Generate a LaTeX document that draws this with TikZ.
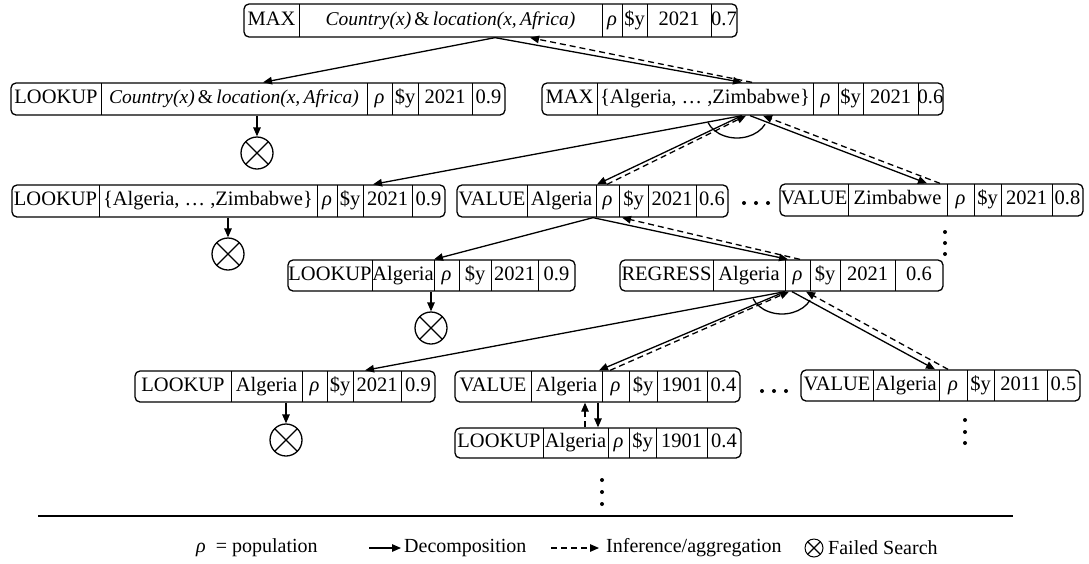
\documentclass[tikz,border=0pt]{standalone}
\usepackage{fontspec}
\setmainfont{Liberation Serif}
\usetikzlibrary{arrows.meta,calc}

\tikzset{
  conn/.style={line width=1.3pt, -{Triangle[length=9pt,width=7.5pt]}},
  infer/.style={conn, dash pattern=on 6pt off 4pt},
  framebox/.style={draw, line width=1.3pt, rounded corners=5pt, inner sep=0pt},
  celltext/.style={inner sep=0pt, text height=14pt, text depth=4.5pt, font=\fontsize{20.5}{24}\selectfont},
  divider/.style={line width=1pt},
  fail/.style={circle, draw, line width=1.3pt, minimum size=32pt, inner sep=0pt,
    path picture={\draw[line width=1.3pt]
      (path picture bounding box.south west) -- (path picture bounding box.north east)
      (path picture bounding box.north west) -- (path picture bounding box.south east);}},
  dot/.style={circle, fill, inner sep=0pt, minimum size=4pt},
  legend/.style={inner sep=0pt, anchor=west, font=\fontsize{20}{24}\selectfont},
}

% operation box: name, top, bottom, left, right, cells (from/to/text)
\newcommand\opbox[6]{%
  \node[framebox, minimum width={(#5)-(#4)}, minimum height={(#3)-(#2)}]
    (#1) at ({((#4)+(#5))/2},{((#2)+(#3))/2}) {};
  \foreach \a/\b/\t [count=\i] in {#6} {
    \ifnum\i>1 \draw[divider] (\a,#2) -- (\a,#3); \fi
    \node[celltext] at ({(\a+\b)/2},{((#2)+(#3))/2}) {\t};
  }%
}
\newcommand\rh{{\itshape ρ}}
\newcommand\cafrica{{\fontsize{19.5}{22}\selectfont\itshape Country(x)\,\upshape\&\,\itshape location(x,\,Africa)}}
\newcommand\alzim{\{Algeria, … ,Zimbabwe\}}

\begin{document}
\begin{tikzpicture}[x=1pt,y=-1pt]
\useasboundingbox (0,0) rectangle (1089,563);

% ---- operation boxes ----
\opbox{t}{4}{37}{244}{737}{244/299/MAX, 299/602/\cafrica, 602/622/\rh, 622/647/\$y, 647/711/2021, 711/737/0.7}

\opbox{l2}{83}{115}{11}{505}{11/101/LOOKUP, 101/367/\cafrica, 367/392/\rh, 392/418/\$y, 418/472/2021, 472/505/0.9}
\opbox{m2}{83}{115}{542}{943}{542/597/MAX, 597/813/\alzim, 813/838/\rh, 838/863/\$y, 863/918/2021, 918/943/0.6}

\opbox{l3}{185}{217}{12}{445}{12/99/LOOKUP, 99/317/\alzim, 317/337/\rh, 337/363/\$y, 363/412/2021, 412/445/0.9}
\opbox{v3a}{185}{217}{457}{728}{457/527/VALUE, 527/596/Algeria, 596/619/\rh, 619/648/\$y, 648/696/2021, 696/728/0.6}
\opbox{v3b}{184}{216}{780}{1083}{780/848/VALUE, 848/947/Zimbabwe, 947/974/\rh, 974/1001/\$y, 1001/1052/2021, 1052/1083/0.8}

\opbox{l4}{260}{291}{288}{575}{288/372/LOOKUP, 372/434/Algeria, 434/459/\rh, 459/491/\$y, 491/538/2021, 538/575/0.9}
\opbox{r4}{260}{291}{620}{943}{620/713/REGRESS, 713/785/Algeria, 785/810/\rh, 810/840/\$y, 840/895/2021, 895/943/0.6}

\opbox{l5}{371}{402}{135}{435}{135/231/LOOKUP, 231/302/Algeria, 302/327/\rh, 327/353/\$y, 353/401/2021, 401/435/0.9}
\opbox{v5a}{371}{402}{455}{740}{455/531/VALUE, 531/602/Algeria, 602/629/\rh, 629/657/\$y, 657/707/1901, 707/740/0.4}
\opbox{v5b}{370}{401}{801}{1080}{801/873/VALUE, 873/939/Algeria, 939/967/\rh, 967/994/\$y, 994/1047/2011, 1047/1080/0.5}

\opbox{l6}{428}{458}{455}{741}{455/543/LOOKUP, 543/608/Algeria, 608/629/\rh, 629/656/\$y, 656/707/1901, 707/741/0.4}

% ---- failed searches ----
\node[fail] (c1) at (257,153) {};
\node[fail] (c2) at (228,254) {};
\node[fail] (c3) at (431,328) {};
\node[fail] (c4) at (286,440) {};

% ---- continuation dots ----
\foreach \x in {744,756,768} \node[dot] at (\x,203) {};
\foreach \x in {762,774,786} \node[dot] at (\x,391) {};
\foreach \y in {232,243,254} \node[dot] at (945,\y) {};
\foreach \y in {420,432,443} \node[dot] at (965,\y) {};
\foreach \y in {480,492,504} \node[dot] at (602,\y) {};

% ---- decomposition and aggregation ----
\draw[conn]  (t.south -| 495,0) -- (l2.north -| 263,0);
\draw[conn]  (t.south -| 495,0) -- (m2.north -| 742,0);
\draw[infer] (m2.north -| 752,0) -- (t.south -| 530,0);

\draw[conn] (l2.south -| 257,0) -- (c1);
\draw[conn]  (m2.south -| 742,0) -- (l3.north -| 373,0);
\draw[conn]  (m2.south -| 742,0) -- (v3a.north -| 597,0);
\draw[infer] (v3a.north -| 607,0) -- (m2.south -| 746,0);
\draw[conn]  (m2.south -| 750,0) -- (v3b.north -| 927,0);
\draw[infer] (v3b.north -| 940,0) -- (m2.south -| 763,0);
\draw[line width=1.3pt] ([shift={(25:31 and 24)}]737,114) arc[start angle=25, end angle=159, x radius=31, y radius=24];

\draw[conn] (l3.south -| 228,0) -- (c2);
\draw[conn]  (v3a.south -| 593,0) -- (l4.north -| 434,0);
\draw[conn]  (v3a.south -| 593,0) -- (r4.north -| 788,0);
\draw[infer] (r4.north -| 800,0) -- (v3a.south -| 622,0);

\draw[conn] (l4.south -| 431,0) -- (c3);
\draw[conn]  (r4.south -| 785,0) -- (l5.north -| 365,0);
\draw[conn]  (r4.south -| 785,0) -- (v5a.north -| 599,0);
\draw[infer] (v5a.north -| 610,0) -- (r4.south -| 789,0);
\draw[conn]  (r4.south -| 792,0) -- (v5b.north -| 935,0);
\draw[infer] (v5b.north -| 948,0) -- (r4.south -| 806,0);
\draw[line width=1.3pt] ([shift={(25:31 and 24)}]782,290) arc[start angle=25, end angle=159, x radius=31, y radius=24];

\draw[conn] (l5.south -| 286,0) -- (c4);
\draw[conn]  (v5a.south -| 598,0) -- (l6.north -| 598,0);
\draw[infer] (l6.north -| 585,0) -- (v5a.south -| 585,0);

% ---- legend ----
\draw[line width=2pt] (38,516) -- (1013,516);
\node[legend] (lrho) at (196,548) {\rh\ \ = population};
\coordinate (da) at (369,548);
\coordinate (db) at (401,548);
\draw[conn] (da) -- (db);
\node[legend] (ldec) at (404,548) {Decomposition};
\coordinate (ia) at (551,548);
\coordinate (ib) at (599,548);
\draw[infer] (ia) -- (ib);
\node[legend] (linf) at (606,548) {Inference/aggregation};
\node[fail, minimum size=18pt, line width=1pt] (lfail) at (814,548) {};
\node[legend] (lfs) at (828,548) {Failed Search};
\end{tikzpicture}
\end{document}
